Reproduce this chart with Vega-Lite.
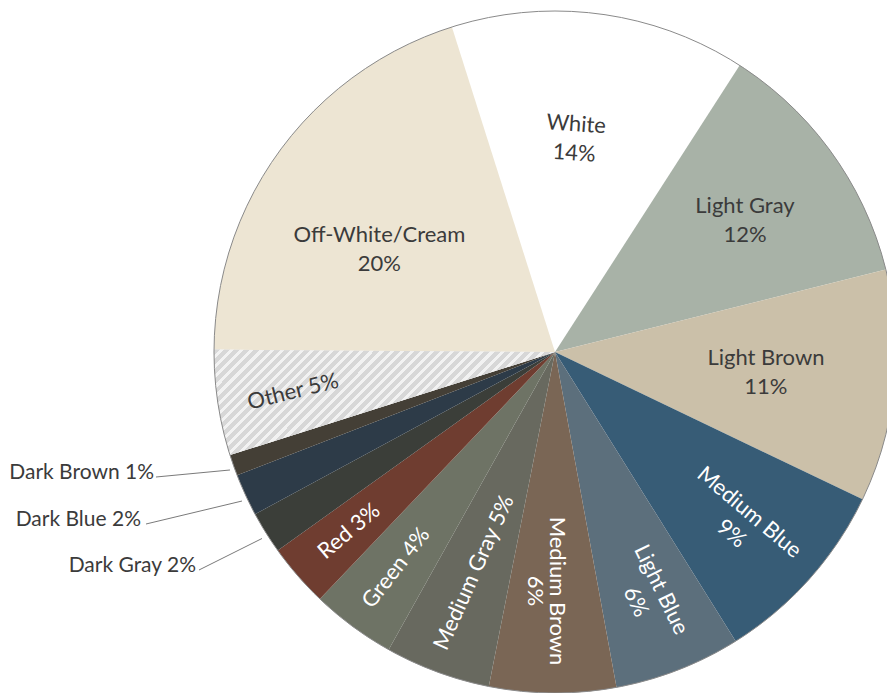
{
  "$schema": "https://vega.github.io/schema/vega-lite/v6.json",
  "width": 887,
  "height": 693,
  "autosize": "none",
  "padding": 0,
  "background": "white",
  "usermeta": {"embedOptions": {"actions": false}},
  "config": {"view": {"stroke": null}, "font": "Lato"},
  "datasets": {
    "colors": [
      {"order": 1, "name": "White", "pct": 14, "label": "White\n14%"},
      {"order": 2, "name": "Light Gray", "pct": 12, "label": "Light Gray\n12%"},
      {"order": 3, "name": "Light Brown", "pct": 11, "label": "Light Brown\n11%"},
      {"order": 4, "name": "Medium Blue", "pct": 9, "label": "Medium Blue\n9%"},
      {"order": 5, "name": "Light Blue", "pct": 6, "label": "Light Blue\n6%"},
      {"order": 6, "name": "Medium Brown", "pct": 6, "label": "Medium Brown\n6%"},
      {"order": 7, "name": "Medium Gray", "pct": 5, "label": "Medium Gray 5%"},
      {"order": 8, "name": "Green", "pct": 4, "label": "Green 4%"},
      {"order": 9, "name": "Red", "pct": 3, "label": "Red 3%"},
      {"order": 10, "name": "Dark Gray", "pct": 2, "label": "Dark Gray 2%"},
      {"order": 11, "name": "Dark Blue", "pct": 2, "label": "Dark Blue 2%"},
      {"order": 12, "name": "Dark Brown", "pct": 1, "label": "Dark Brown 1%"},
      {"order": 13, "name": "Other", "pct": 5, "label": "Other 5%"},
      {"order": 14, "name": "Off-White/Cream", "pct": 20, "label": "Off-White/Cream\n20%"}
    ],
    "callouts": [
      {"label": "Dark Brown 1%", "lx": -1.176, "ly": -0.3724, "x1": -1.1701, "y1": -0.3666, "x2": -0.9531, "y2": -0.346},
      {"label": "Dark Blue 2%", "lx": -1.2141, "ly": -0.5103, "x1": -1.1994, "y1": -0.5044, "x2": -0.9179, "y2": -0.437},
      {"label": "Dark Gray 2%", "lx": -1.0528, "ly": -0.6443, "x1": -1.044, "y1": -0.6393, "x2": -0.8592, "y2": -0.5469}
    ]
  },
  "layer": [
    {
      "data": {"name": "colors"},
      "encoding": {
        "x": {"datum": 0, "type": "quantitative", "scale": {"domain": [-1.62757, 0.97361], "nice": false, "zero": false}, "axis": null},
        "y": {"datum": 0, "type": "quantitative", "scale": {"domain": [-1.0, 1.03226], "nice": false, "zero": false}, "axis": null},
        "theta": {"field": "pct", "type": "quantitative", "stack": true, "scale": {"domain": [0, 100], "range": [-0.30718, 5.97601]}},
        "order": {"field": "order", "type": "quantitative"},
        "detail": {"field": "name", "type": "nominal"}
      },
      "layer": [
        {
          "mark": {"type": "arc", "outerRadius": 341},
          "encoding": {
            "color": {
              "field": "name", "type": "nominal", "legend": null,
              "scale": {
                "domain": ["White", "Light Gray", "Light Brown", "Medium Blue", "Light Blue", "Medium Brown", "Medium Gray", "Green", "Red", "Dark Gray", "Dark Blue", "Dark Brown", "Other", "Off-White/Cream"],
                "range": ["#ffffff", "#a8b2a7", "#cbc0a9", "#375c76", "#5c6f7c", "#7a6655", "#68695f", "#6e7365", "#6f3d30", "#3b3e39", "#2d3b48", "#443f36", "#e2e2e2", "#ede5d3"]
              }
            }
          }
        },
        {
          "mark": {
            "type": "arc", "outerRadius": 341,
            "fill": {
              "gradient": "linear", "x1": 0, "y1": 0, "x2": 1, "y2": 0.309,
              "stops": [
                {"offset": 0, "color": "#d7d7d7"}, {"offset": 0.016, "color": "#d7d7d7"}, {"offset": 0.016, "color": "#f2f2f2"}, {"offset": 0.027, "color": "#f2f2f2"},
                {"offset": 0.027, "color": "#d7d7d7"}, {"offset": 0.043, "color": "#d7d7d7"}, {"offset": 0.043, "color": "#f2f2f2"}, {"offset": 0.054, "color": "#f2f2f2"},
                {"offset": 0.054, "color": "#d7d7d7"}, {"offset": 0.07, "color": "#d7d7d7"}, {"offset": 0.07, "color": "#f2f2f2"}, {"offset": 0.081, "color": "#f2f2f2"},
                {"offset": 0.081, "color": "#d7d7d7"}, {"offset": 0.097, "color": "#d7d7d7"}, {"offset": 0.097, "color": "#f2f2f2"}, {"offset": 0.108, "color": "#f2f2f2"},
                {"offset": 0.108, "color": "#d7d7d7"}, {"offset": 0.124, "color": "#d7d7d7"}, {"offset": 0.124, "color": "#f2f2f2"}, {"offset": 0.135, "color": "#f2f2f2"},
                {"offset": 0.135, "color": "#d7d7d7"}, {"offset": 0.151, "color": "#d7d7d7"}, {"offset": 0.151, "color": "#f2f2f2"}, {"offset": 0.162, "color": "#f2f2f2"},
                {"offset": 0.162, "color": "#d7d7d7"}, {"offset": 0.178, "color": "#d7d7d7"}, {"offset": 0.178, "color": "#f2f2f2"}, {"offset": 0.189, "color": "#f2f2f2"},
                {"offset": 0.189, "color": "#d7d7d7"}, {"offset": 0.205, "color": "#d7d7d7"}, {"offset": 0.205, "color": "#f2f2f2"}, {"offset": 0.216, "color": "#f2f2f2"},
                {"offset": 0.216, "color": "#d7d7d7"}, {"offset": 0.232, "color": "#d7d7d7"}, {"offset": 0.232, "color": "#f2f2f2"}, {"offset": 0.243, "color": "#f2f2f2"},
                {"offset": 0.243, "color": "#d7d7d7"}, {"offset": 0.259, "color": "#d7d7d7"}, {"offset": 0.259, "color": "#f2f2f2"}, {"offset": 0.27, "color": "#f2f2f2"},
                {"offset": 0.27, "color": "#d7d7d7"}, {"offset": 0.286, "color": "#d7d7d7"}, {"offset": 0.286, "color": "#f2f2f2"}, {"offset": 0.297, "color": "#f2f2f2"},
                {"offset": 0.297, "color": "#d7d7d7"}, {"offset": 0.313, "color": "#d7d7d7"}, {"offset": 0.313, "color": "#f2f2f2"}, {"offset": 0.324, "color": "#f2f2f2"},
                {"offset": 0.324, "color": "#d7d7d7"}, {"offset": 0.34, "color": "#d7d7d7"}, {"offset": 0.34, "color": "#f2f2f2"}, {"offset": 0.351, "color": "#f2f2f2"},
                {"offset": 0.351, "color": "#d7d7d7"}, {"offset": 0.367, "color": "#d7d7d7"}, {"offset": 0.367, "color": "#f2f2f2"}, {"offset": 0.378, "color": "#f2f2f2"},
                {"offset": 0.378, "color": "#d7d7d7"}, {"offset": 0.394, "color": "#d7d7d7"}, {"offset": 0.394, "color": "#f2f2f2"}, {"offset": 0.405, "color": "#f2f2f2"},
                {"offset": 0.405, "color": "#d7d7d7"}, {"offset": 0.421, "color": "#d7d7d7"}, {"offset": 0.421, "color": "#f2f2f2"}, {"offset": 0.432, "color": "#f2f2f2"},
                {"offset": 0.432, "color": "#d7d7d7"}, {"offset": 0.448, "color": "#d7d7d7"}, {"offset": 0.448, "color": "#f2f2f2"}, {"offset": 0.459, "color": "#f2f2f2"},
                {"offset": 0.459, "color": "#d7d7d7"}, {"offset": 0.475, "color": "#d7d7d7"}, {"offset": 0.475, "color": "#f2f2f2"}, {"offset": 0.486, "color": "#f2f2f2"},
                {"offset": 0.486, "color": "#d7d7d7"}, {"offset": 0.502, "color": "#d7d7d7"}, {"offset": 0.502, "color": "#f2f2f2"}, {"offset": 0.513, "color": "#f2f2f2"},
                {"offset": 0.513, "color": "#d7d7d7"}, {"offset": 0.529, "color": "#d7d7d7"}, {"offset": 0.529, "color": "#f2f2f2"}, {"offset": 0.54, "color": "#f2f2f2"},
                {"offset": 0.54, "color": "#d7d7d7"}, {"offset": 0.556, "color": "#d7d7d7"}, {"offset": 0.556, "color": "#f2f2f2"}, {"offset": 0.567, "color": "#f2f2f2"},
                {"offset": 0.567, "color": "#d7d7d7"}, {"offset": 0.583, "color": "#d7d7d7"}, {"offset": 0.583, "color": "#f2f2f2"}, {"offset": 0.594, "color": "#f2f2f2"},
                {"offset": 0.594, "color": "#d7d7d7"}, {"offset": 0.61, "color": "#d7d7d7"}, {"offset": 0.61, "color": "#f2f2f2"}, {"offset": 0.621, "color": "#f2f2f2"},
                {"offset": 0.621, "color": "#d7d7d7"}, {"offset": 0.637, "color": "#d7d7d7"}, {"offset": 0.637, "color": "#f2f2f2"}, {"offset": 0.648, "color": "#f2f2f2"},
                {"offset": 0.648, "color": "#d7d7d7"}, {"offset": 0.664, "color": "#d7d7d7"}, {"offset": 0.664, "color": "#f2f2f2"}, {"offset": 0.675, "color": "#f2f2f2"},
                {"offset": 0.675, "color": "#d7d7d7"}, {"offset": 0.691, "color": "#d7d7d7"}, {"offset": 0.691, "color": "#f2f2f2"}, {"offset": 0.702, "color": "#f2f2f2"},
                {"offset": 0.702, "color": "#d7d7d7"}, {"offset": 0.718, "color": "#d7d7d7"}, {"offset": 0.718, "color": "#f2f2f2"}, {"offset": 0.729, "color": "#f2f2f2"},
                {"offset": 0.729, "color": "#d7d7d7"}, {"offset": 0.745, "color": "#d7d7d7"}, {"offset": 0.745, "color": "#f2f2f2"}, {"offset": 0.756, "color": "#f2f2f2"},
                {"offset": 0.756, "color": "#d7d7d7"}, {"offset": 0.772, "color": "#d7d7d7"}, {"offset": 0.772, "color": "#f2f2f2"}, {"offset": 0.783, "color": "#f2f2f2"},
                {"offset": 0.783, "color": "#d7d7d7"}, {"offset": 0.799, "color": "#d7d7d7"}, {"offset": 0.799, "color": "#f2f2f2"}, {"offset": 0.81, "color": "#f2f2f2"},
                {"offset": 0.81, "color": "#d7d7d7"}, {"offset": 0.826, "color": "#d7d7d7"}, {"offset": 0.826, "color": "#f2f2f2"}, {"offset": 0.837, "color": "#f2f2f2"},
                {"offset": 0.837, "color": "#d7d7d7"}, {"offset": 0.853, "color": "#d7d7d7"}, {"offset": 0.853, "color": "#f2f2f2"}, {"offset": 0.864, "color": "#f2f2f2"},
                {"offset": 0.864, "color": "#d7d7d7"}, {"offset": 0.88, "color": "#d7d7d7"}, {"offset": 0.88, "color": "#f2f2f2"}, {"offset": 0.891, "color": "#f2f2f2"},
                {"offset": 0.891, "color": "#d7d7d7"}, {"offset": 0.907, "color": "#d7d7d7"}, {"offset": 0.907, "color": "#f2f2f2"}, {"offset": 0.918, "color": "#f2f2f2"},
                {"offset": 0.918, "color": "#d7d7d7"}, {"offset": 0.934, "color": "#d7d7d7"}, {"offset": 0.934, "color": "#f2f2f2"}, {"offset": 0.945, "color": "#f2f2f2"},
                {"offset": 0.945, "color": "#d7d7d7"}, {"offset": 0.961, "color": "#d7d7d7"}, {"offset": 0.961, "color": "#f2f2f2"}, {"offset": 0.972, "color": "#f2f2f2"},
                {"offset": 0.972, "color": "#d7d7d7"}, {"offset": 0.988, "color": "#d7d7d7"}, {"offset": 0.988, "color": "#f2f2f2"}, {"offset": 1, "color": "#f2f2f2"}
              ]
            }
          },
          "encoding": {
            "opacity": {"condition": {"test": "datum.name === 'Other'", "value": 1}, "value": 0}
          }
        }
      ]
    },
    {
      "data": {"values": [{"ring": 1}]},
      "mark": {"type": "arc", "theta": 0, "theta2": 6.2832, "outerRadius": 341, "fill": "#ffffff", "fillOpacity": 0, "stroke": "#8a8a8a", "strokeWidth": 1},
      "encoding": {
        "x": {"datum": 0, "type": "quantitative", "scale": {"domain": [-1.62757, 0.97361], "nice": false, "zero": false}, "axis": null},
        "y": {"datum": 0, "type": "quantitative", "scale": {"domain": [-1.0, 1.03226], "nice": false, "zero": false}, "axis": null}
      }
    },
    {
      "data": {"name": "colors"},
      "encoding": {
        "x": {"datum": 0, "type": "quantitative", "scale": {"domain": [-1.62757, 0.97361], "nice": false, "zero": false}, "axis": null},
        "y": {"datum": 0, "type": "quantitative", "scale": {"domain": [-1.0, 1.03226], "nice": false, "zero": false}, "axis": null},
        "theta": {"field": "pct", "type": "quantitative", "stack": true, "scale": {"domain": [0, 100], "range": [-0.30718, 5.97601]}},
        "order": {"field": "order", "type": "quantitative"},
        "detail": {"field": "name", "type": "nominal"},
        "text": {"field": "label", "type": "nominal"}
      },
      "layer": [
        {"mark": {"type": "text", "radius": 211, "angle": 4, "dx": -8, "dy": -18, "color": "#3b3b3b", "fontSize": 22, "lineBreak": "\n", "lineHeight": 29, "align": "center", "baseline": "middle"},
         "encoding": {"opacity": {"condition": {"test": "datum.name === 'White'", "value": 1}, "value": 0}}},
        {"mark": {"type": "text", "radius": 230, "angle": 0, "dx": 3, "dy": -12, "color": "#3b3b3b", "fontSize": 22, "lineBreak": "\n", "lineHeight": 29, "align": "center", "baseline": "middle"},
         "encoding": {"opacity": {"condition": {"test": "datum.name === 'Light Gray'", "value": 1}, "value": 0}}},
        {"mark": {"type": "text", "radius": 212, "angle": 0, "dx": 0, "dy": -15, "color": "#3b3b3b", "fontSize": 22, "lineBreak": "\n", "lineHeight": 29, "align": "center", "baseline": "middle"},
         "encoding": {"opacity": {"condition": {"test": "datum.name === 'Light Brown'", "value": 1}, "value": 0}}},
        {"mark": {"type": "text", "radius": 251, "angle": 40, "dx": 1, "dy": -10, "color": "#ffffff", "fontSize": 22, "lineBreak": "\n", "lineHeight": 28, "align": "center", "baseline": "middle"},
         "encoding": {"opacity": {"condition": {"test": "datum.name === 'Medium Blue'", "value": 1}, "value": 0}}},
        {"mark": {"type": "text", "radius": 260, "angle": 64, "dx": 1, "dy": -13, "color": "#ffffff", "fontSize": 22, "lineBreak": "\n", "lineHeight": 28, "align": "center", "baseline": "middle"},
         "encoding": {"opacity": {"condition": {"test": "datum.name === 'Light Blue'", "value": 1}, "value": 0}}},
        {"mark": {"type": "text", "radius": 238, "angle": 90, "dx": 1, "dy": -4, "color": "#ffffff", "fontSize": 22, "lineBreak": "\n", "lineHeight": 22, "align": "center", "baseline": "middle"},
         "encoding": {"opacity": {"condition": {"test": "datum.name === 'Medium Brown'", "value": 1}, "value": 0}}},
        {"mark": {"type": "text", "radius": 235, "angle": -66, "color": "#ffffff", "fontSize": 22, "align": "center", "baseline": "middle"},
         "encoding": {"opacity": {"condition": {"test": "datum.name === 'Medium Gray'", "value": 1}, "value": 0}}},
        {"mark": {"type": "text", "radius": 268, "angle": -52, "color": "#ffffff", "fontSize": 22, "align": "center", "baseline": "middle"},
         "encoding": {"opacity": {"condition": {"test": "datum.name === 'Green'", "value": 1}, "value": 0}}},
        {"mark": {"type": "text", "radius": 273, "angle": -40, "color": "#ffffff", "fontSize": 22, "align": "center", "baseline": "middle"},
         "encoding": {"opacity": {"condition": {"test": "datum.name === 'Red'", "value": 1}, "value": 0}}},
        {"mark": {"type": "text", "radius": 265, "angle": -14, "color": "#3b3b3b", "fontSize": 22, "align": "center", "baseline": "middle"},
         "encoding": {"opacity": {"condition": {"test": "datum.name === 'Other'", "value": 1}, "value": 0}}},
        {"mark": {"type": "text", "radius": 202, "angle": 0, "dx": -13, "dy": 3, "color": "#3b3b3b", "fontSize": 22, "lineBreak": "\n", "lineHeight": 29, "align": "center", "baseline": "middle"},
         "encoding": {"opacity": {"condition": {"test": "datum.name === 'Off-White/Cream'", "value": 1}, "value": 0}}}
      ]
    },
    {
      "data": {"name": "callouts"},
      "layer": [
        {
          "mark": {"type": "rule", "color": "#7a7a7a", "strokeWidth": 1},
          "encoding": {
            "x": {"field": "x1", "type": "quantitative", "scale": {"domain": [-1.62757, 0.97361], "nice": false, "zero": false}, "axis": null},
            "y": {"field": "y1", "type": "quantitative", "scale": {"domain": [-1.0, 1.03226], "nice": false, "zero": false}, "axis": null},
            "x2": {"field": "x2"},
            "y2": {"field": "y2"}
          }
        },
        {
          "mark": {"type": "text", "align": "right", "baseline": "alphabetic", "fontSize": 21, "color": "#3b3b3b"},
          "encoding": {
            "x": {"field": "lx", "type": "quantitative", "scale": {"domain": [-1.62757, 0.97361], "nice": false, "zero": false}, "axis": null},
            "y": {"field": "ly", "type": "quantitative", "scale": {"domain": [-1.0, 1.03226], "nice": false, "zero": false}, "axis": null},
            "text": {"field": "label", "type": "nominal"}
          }
        }
      ]
    }
  ]
}
